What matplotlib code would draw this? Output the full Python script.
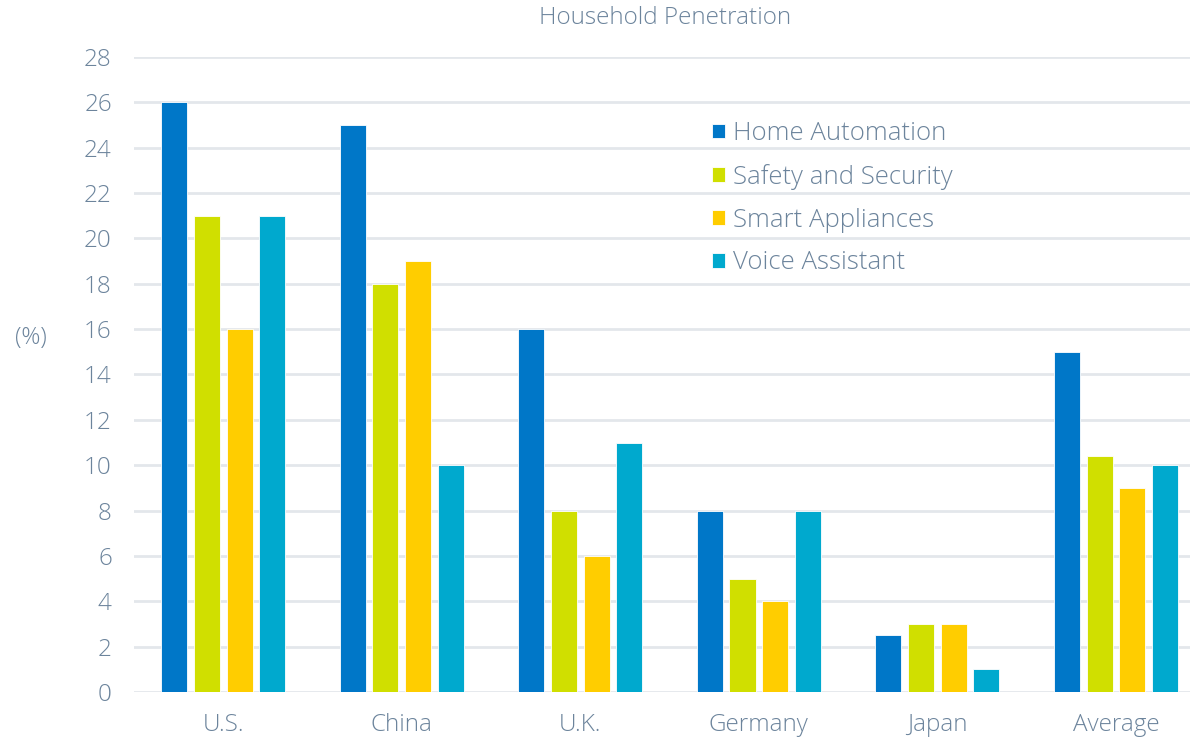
import numpy as np
import matplotlib.pyplot as plt

countries = ['U.S.', 'China', 'U.K.', 'Germany', 'Japan', 'Average']
series = ['Home Automation', 'Safety and Security', 'Smart Appliances', 'Voice Assistant']
home_automation = [26, 25, 16, 8, 2.5, 15]
safety_security = [21, 18, 8, 5, 3, 10.4]
smart_appliances = [16, 19, 6, 4, 3, 9]
voice_assistant = [21, 10, 11, 8, 1, 10]
colors = ['#0077c8', '#d0df00', '#ffcd00', '#00a9ce']

text_col = '#6c849c'
plt.rcParams['font.family'] = ['Open Sans', 'DejaVu Sans']
plt.rcParams['font.weight'] = 'light'

fig = plt.figure(figsize=(11.9, 7.37), dpi=100)
ax = fig.add_axes([0.1126, 0.0611, 0.8874, 0.8616])

x = np.arange(len(countries))
width = 0.146
step = 0.183
values = [home_automation, safety_security, smart_appliances, voice_assistant]
for i, (name, vals) in enumerate(zip(series, values)):
    ax.bar(x + (i - 1.5) * step, vals, width, color=colors[i], label=name,
           edgecolor='white', linewidth=0.6, zorder=3)

ax.set_ylim(0, 28)
ax.set_yticks(np.arange(0, 29, 2))
ax.set_xlim(-0.5, 5.415)
ax.set_xticks(x)
ax.set_xticklabels(countries)
ax.grid(axis='y', color='#e3e7eb', linewidth=2, zorder=0)
for s in ax.spines.values():
    s.set_visible(False)
ax.tick_params(axis='y', length=0, colors=text_col, pad=16)
ax.tick_params(axis='x', length=0, colors=text_col, pad=15)
for lab in ax.get_xticklabels() + ax.get_yticklabels():
    lab.set_fontsize(17.5)

fig.text(0.026, 0.541, '(%)', fontsize=17, color=text_col, ha='center', va='center')
fig.text(0.559, 0.975, 'Household Penetration', fontsize=17.5, color=text_col,
         ha='center', va='center')

leg = ax.legend(loc='upper left', bbox_to_anchor=(0.579, 0.867), bbox_transform=fig.transFigure,
                frameon=False, fontsize=18.5, handlelength=0.5, handleheight=0.5,
                handletextpad=0.3, labelspacing=0.69, labelcolor=text_col)

fig.savefig('out.png', dpi=100, facecolor='white')
